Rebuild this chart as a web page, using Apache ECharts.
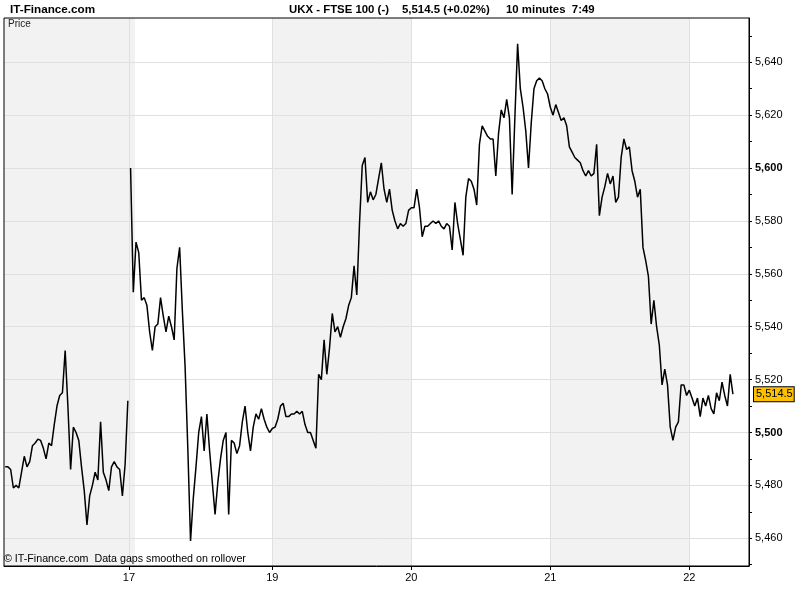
<!DOCTYPE html>
<html><head><meta charset="utf-8">
<script src="https://cdn.jsdelivr.net/npm/echarts@6/dist/echarts.min.js"></script>
<style>html,body{margin:0;padding:0;background:#fff}#c{width:800px;height:600px}</style>
</head><body><div id="c"></div>
<script>
// ---- data (x = 10-minute bar index) ----
const dayTicks = [45.4, 98, 149, 200, 251];
const dayLabels = ['17', '19', '20', '21', '22'];
const shadedDays = [[-0.44, 47.6], [98, 149], [200, 251]];
const priceLabels = [5460, 5480, 5500, 5520, 5540, 5560, 5580, 5600, 5620, 5640];
const priceMinorTicks = [5450, 5460, 5470, 5480, 5490, 5500, 5510, 5520, 5530, 5540, 5550, 5560, 5570, 5580, 5590, 5600, 5610, 5620, 5630, 5640, 5650];
const boldPrices = [5500, 5600];
const lastPrice = 5514.5;
const session1Start = 0;
const session1 = [5487, 5487, 5486, 5479, 5480, 5479, 5485, 5491, 5487, 5489,
  5495, 5496, 5497.5, 5497, 5494, 5490, 5496, 5495, 5503, 5510,
  5514, 5515, 5531, 5510, 5486, 5502, 5500, 5497, 5487, 5478,
  5465, 5476, 5480, 5485, 5482, 5504, 5485, 5482, 5478, 5487,
  5489, 5487, 5486, 5476, 5488, 5512];
const session2Start = 46;
const session2 = [5600, 5553, 5572, 5568, 5550, 5551, 5548, 5538, 5531, 5540,
  5541, 5551, 5544, 5538, 5544, 5540, 5535, 5562, 5570, 5546,
  5525, 5494, 5459, 5475, 5487, 5500, 5506, 5493, 5507, 5493,
  5481, 5469, 5481, 5490, 5497, 5500, 5469, 5497, 5496, 5492,
  5495, 5504, 5510, 5500, 5493, 5502, 5507, 5505, 5509, 5505,
  5502, 5500, 5501.5, 5502, 5505, 5510, 5511, 5506, 5506, 5507,
  5507, 5508, 5507, 5508, 5503, 5500, 5500, 5497, 5494, 5522,
  5520, 5535, 5522, 5532, 5545, 5538, 5540, 5536, 5540, 5543,
  5548, 5551, 5563, 5552, 5579, 5601, 5604, 5587, 5591, 5588,
  5590, 5596, 5602, 5592, 5587, 5592, 5584, 5580, 5577, 5579,
  5578, 5579, 5584, 5585, 5585, 5592, 5585, 5574, 5578, 5578,
  5579, 5580, 5579, 5580, 5578, 5577, 5579, 5578, 5569, 5587,
  5579, 5573, 5567, 5589, 5596, 5595, 5592, 5586, 5609, 5616,
  5614, 5612, 5611, 5611, 5597, 5613, 5622, 5619, 5626, 5619,
  5590, 5619, 5647, 5630, 5623, 5614, 5600, 5617, 5630, 5633,
  5634, 5633, 5630, 5628, 5623, 5620, 5624, 5621, 5618, 5619,
  5616, 5608, 5606, 5604, 5603, 5602, 5599, 5597, 5599, 5597,
  5598, 5609, 5582, 5589, 5593, 5598, 5594, 5597, 5587, 5589,
  5604, 5611, 5607, 5608, 5599, 5595, 5589, 5592, 5570, 5565,
  5559, 5541, 5550, 5540, 5533, 5518, 5524, 5518, 5502, 5497,
  5502, 5504, 5518, 5518, 5514, 5516, 5513, 5510, 5513, 5506,
  5513, 5510, 5514, 5509, 5507, 5515, 5512, 5519, 5514, 5510,
  5522, 5514.5];

// ---- build series data ----
const lineData = [];
session1.forEach((v, k) => lineData.push([session1Start + k, v]));
lineData.push([session1Start + session1.length - 0.5, '-']);
session2.forEach((v, k) => lineData.push([session2Start + k, v]));

const FONT = 'Liberation Sans, Arial, sans-serif';
const fmt = v => Number(v).toLocaleString('en-US');

const chart = echarts.init(document.getElementById('c'), null, {renderer: 'canvas'});
chart.setOption({
  animation: false,
  backgroundColor: '#fff',
  grid: {left: 4, right: 51, top: 18, bottom: 34, show: true, borderColor: '#000', borderWidth: 1, backgroundColor: 'transparent', z: 4},
  xAxis: {
    type: 'value', min: -0.44, max: 272.9, z: 5,
    axisLine: {show: true, onZero: false, lineStyle: {color: '#000', width: 1}},
    axisTick: {show: true, length: 4, inside: false, customValues: dayTicks, lineStyle: {color: '#000'}},
    axisLabel: {customValues: dayTicks, margin: 6, color: '#000', fontSize: 11, fontFamily: FONT,
      formatter: v => { const i = dayTicks.indexOf(v); return i >= 0 ? dayLabels[i] : ''; }},
    splitLine: {show: false}
  },
  yAxis: {
    type: 'value', position: 'right', min: 5449.5, max: 5656.75, z: 5,
    axisLine: {show: true, onZero: false, lineStyle: {color: '#000', width: 1}},
    axisTick: {show: true, length: 3, inside: false, customValues: priceMinorTicks, lineStyle: {color: '#000'}},
    axisLabel: {customValues: priceLabels, margin: 6, color: '#000', fontSize: 11, fontFamily: FONT,
      formatter: v => boldPrices.indexOf(v) >= 0 ? '{b|' + fmt(v) + '}' : fmt(v),
      rich: {b: {fontWeight: 'bold', fontSize: 11, fontFamily: FONT, color: '#000'}}},
    splitLine: {show: false}
  },
  graphic: [
    {type: 'text', x: 10, y: 9.5, style: {text: 'IT-Finance.com', font: 'bold 11.7px ' + FONT, fill: '#000', align: 'left', verticalAlign: 'middle'}},
    {type: 'text', x: 289, y: 9.5, style: {text: 'UKX - FTSE 100 (-)', font: 'bold 11.4px ' + FONT, fill: '#000', align: 'left', verticalAlign: 'middle'}},
    {type: 'text', x: 402, y: 9.5, style: {text: '5,514.5 (+0.02%)', font: 'bold 11.4px ' + FONT, fill: '#000', align: 'left', verticalAlign: 'middle'}},
    {type: 'text', x: 506, y: 9.5, style: {text: '10 minutes  7:49', font: 'bold 11.4px ' + FONT, fill: '#000', align: 'left', verticalAlign: 'middle'}},
    {type: 'text', x: 8, y: 24.5, z: 10, style: {text: 'Price', font: '10px ' + FONT, fill: '#222', align: 'left', verticalAlign: 'middle'}},
    {type: 'text', x: 4, y: 559.5, z: 10, style: {text: '\u00a9 IT-Finance.com  Data gaps smoothed on rollover', font: '10.7px ' + FONT, fill: '#000', align: 'left', verticalAlign: 'middle'}}
  ],
  series: [{
    type: 'line', data: lineData, symbol: 'none', showSymbol: false, connectNulls: false, z: 3,
    lineStyle: {color: '#000', width: 1.5},
    markArea: {silent: true, z: 1, itemStyle: {color: '#f2f2f2'},
      data: shadedDays.map(d => [{xAxis: d[0]}, {xAxis: d[1]}])},
    markLine: {silent: true, z: 1.5, symbol: ['none', 'none'], animation: false,
      label: {show: false}, lineStyle: {color: '#e0e0e0', width: 1, type: 'solid'},
      data: [
        ...priceLabels.map(v => ({yAxis: v})),
        ...dayTicks.map(v => ({xAxis: v})),
        {yAxis: lastPrice, lineStyle: {color: 'transparent', width: 1},
          label: {show: true, position: 'end', distance: 5, formatter: fmt(lastPrice),
            backgroundColor: '#ffc000', borderColor: '#000', borderWidth: 1, padding: [2, 1, 1, 2],
            color: '#000', fontSize: 11, fontFamily: FONT}}
      ]}
  }]
});
</script></body></html>
